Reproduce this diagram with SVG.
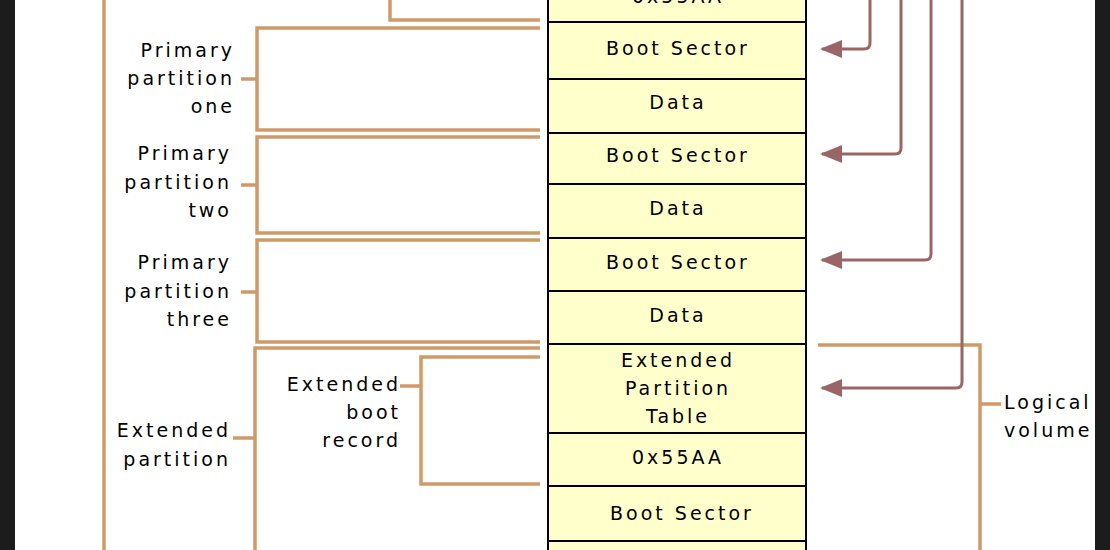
<svg xmlns="http://www.w3.org/2000/svg" width="1110" height="550" viewBox="0 0 1110 550">
<style>
.cell{fill:#FFFFCC;stroke:#000;stroke-width:2}
.t{font-family:"DejaVu Sans","Liberation Sans",sans-serif;font-size:19px;letter-spacing:3px;fill:#000}
.c{text-anchor:middle}
.r{text-anchor:end}
.br{fill:none;stroke:#CF9A68;stroke-width:3.5}
.ar{fill:none;stroke:#9A6565;stroke-width:3}
</style>
<defs>
<marker id="ah" viewBox="0 0 22 18" refX="20" refY="9" markerWidth="22" markerHeight="18" markerUnits="userSpaceOnUse" orient="auto">
<path d="M0,0 L22,9 L0,18 z" fill="#9A6565"/>
</marker>
</defs>
<rect x="0" y="0" width="1110" height="550" fill="#fff"/>
<rect x="0" y="0" width="15" height="550" fill="#1c1c1c"/>
<rect x="1095" y="0" width="15" height="550" fill="#1c1c1c"/>

<g id="cell-mbr-sig"><rect class="cell" x="548" y="-20" width="258" height="42"/><text class="t c" x="678" y="3">0x55AA</text></g>
<g id="cell-boot1"><rect class="cell" x="548" y="22" width="258" height="57"/><text class="t c" x="678" y="55">Boot Sector</text></g>
<g id="cell-data1"><rect class="cell" x="548" y="79" width="258" height="54"/><text class="t c" x="678" y="109">Data</text></g>
<g id="cell-boot2"><rect class="cell" x="548" y="133" width="258" height="51"/><text class="t c" x="678" y="162">Boot Sector</text></g>
<g id="cell-data2"><rect class="cell" x="548" y="184" width="258" height="54"/><text class="t c" x="678" y="215">Data</text></g>
<g id="cell-boot3"><rect class="cell" x="548" y="238" width="258" height="53"/><text class="t c" x="678" y="269">Boot Sector</text></g>
<g id="cell-data3"><rect class="cell" x="548" y="291" width="258" height="53"/><text class="t c" x="678" y="322">Data</text></g>
<g id="cell-ept"><rect class="cell" x="548" y="344" width="258" height="89"/><text class="t c" x="678" y="367">Extended</text><text class="t c" x="678" y="395">Partition</text><text class="t c" x="678" y="423">Table</text></g>
<g id="cell-sig2"><rect class="cell" x="548" y="433" width="258" height="53"/><text class="t c" x="678" y="464">0x55AA</text></g>
<g id="cell-boot4"><rect class="cell" x="548" y="486" width="258" height="55"/><text class="t c" x="682" y="520">Boot Sector</text></g>
<g id="cell-next"><rect class="cell" x="548" y="541" width="258" height="30"/></g>

<g id="label-p1"><text class="t r" x="235" y="57">Primary</text><text class="t r" x="235" y="85">partition</text><text class="t r" x="235" y="113">one</text></g>
<g id="label-p2"><text class="t r" x="232" y="160">Primary</text><text class="t r" x="232" y="189">partition</text><text class="t r" x="232" y="217">two</text></g>
<g id="label-p3"><text class="t r" x="232" y="269">Primary</text><text class="t r" x="232" y="298">partition</text><text class="t r" x="232" y="326">three</text></g>
<g id="label-ext"><text class="t r" x="231" y="437">Extended</text><text class="t r" x="231" y="466">partition</text></g>
<g id="label-ebr"><text class="t r" x="401" y="391">Extended</text><text class="t r" x="401" y="419">boot</text><text class="t r" x="401" y="447">record</text></g>
<g id="label-lv"><text class="t" x="1004" y="409">Logical</text><text class="t" x="1004" y="437">volume</text></g>

<g id="connectors">
<path class="br" d="M104,0 V550"/>
<path class="br" d="M390,0 V20 H540"/>
<path class="br" d="M540,28 H257 V130 H540 M257,79 H241"/>
<path class="br" d="M540,137 H257 V233 H540 M257,185 H241"/>
<path class="br" d="M540,240 H257 V342 H540 M257,292 H241"/>
<path class="br" d="M540,348 H255 V550 M255,438 H233"/>
<path class="br" d="M540,357 H421 V484 H540 M421,386 H400"/>
<path class="br" d="M818,345 H980 V550 M980,404 H1001"/>
<path class="ar" marker-end="url(#ah)" d="M870,0 V43 Q870,49 864,49 H822"/>
<path class="ar" marker-end="url(#ah)" d="M901,0 V148 Q901,154 895,154 H822"/>
<path class="ar" marker-end="url(#ah)" d="M931,0 V254 Q931,260 925,260 H822"/>
<path class="ar" marker-end="url(#ah)" d="M962,0 V382 Q962,388 956,388 H822"/>
</g>
</svg>
